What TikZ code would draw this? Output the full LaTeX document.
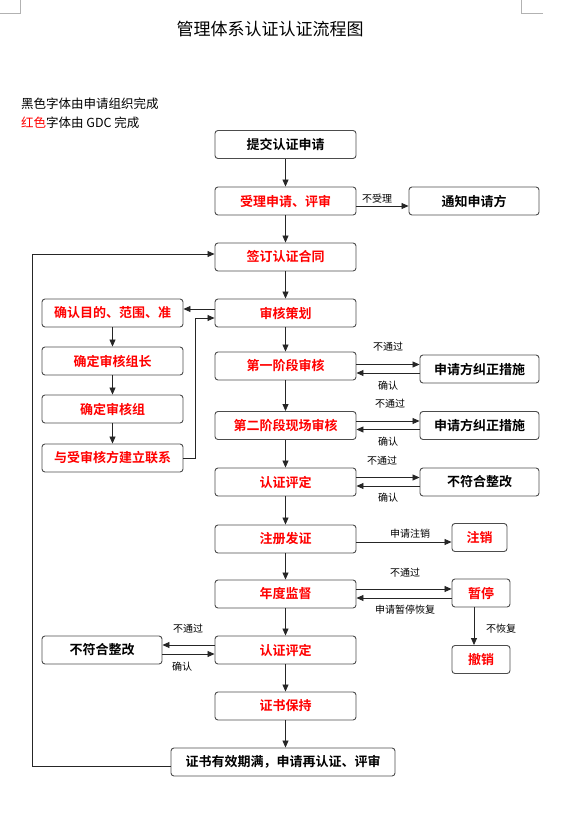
\documentclass[tikz,border=0pt]{standalone}
\usepackage{fontspec}
\setmainfont{Noto Sans CJK SC}[BoldFont={Noto Sans CJK SC Bold}]
\usetikzlibrary{arrows.meta}

\begin{document}
\begin{tikzpicture}[x=1pt, y=-1pt, font=\fontsize{10}{12}\selectfont,
  box/.style={draw=black!70, line width=0.9pt, rounded corners=3pt, minimum width=141pt,
    minimum height=28pt, inner sep=0pt, font=\fontsize{13}{15}\selectfont\bfseries},
  redbox/.style={box, text=red},
  arr/.style={draw=black!85, line width=0.8pt, -{Triangle[length=7pt,width=6pt]}},
  lbl/.style={inner sep=0pt, font=\fontsize{10}{12}\selectfont}]
\useasboundingbox (0,0) rectangle (564,822);
% page corner marks
\draw[gray!60, line width=0.6pt] (0,13) -- (20,13) -- (20,0);
\draw[gray!60, line width=0.6pt] (543,13) -- (521,13) -- (521,0);
\node (title) at (270,29) {\fontsize{17}{20}\selectfont 管理体系认证认证流程图};
\node[anchor=west, inner sep=0pt, font=\fontsize{12.5}{14}\selectfont] (legendA) at (21,104) {黑色字体由申请组织完成};
\node[anchor=west, inner sep=0pt, font=\fontsize{12.5}{14}\selectfont] (legendB) at (21,123) {\textcolor{red}{红色}字体由 GDC 完成};
% main column
\node[box] (apply) at (285.5,144.5) {提交认证申请};
\node[redbox] (accept) at (285.5,201) {受理申请、评审};
\node[box, minimum width=130pt] (notify) at (474,201) {通知申请方};
\node[redbox] (contract) at (285.5,257) {签订认证合同};
\node[redbox] (plan) at (285.5,313) {审核策划};
\node[redbox] (stage1) at (285.5,366) {第一阶段审核};
\node[redbox] (stage2) at (285.5,425.5) {第二阶段现场审核};
\node[redbox] (eval1) at (285.5,482) {认证评定};
\node[redbox] (register) at (285.5,539) {注册发证};
\node[redbox] (survey) at (285.5,594) {年度监督};
\node[redbox] (eval2) at (285.5,650) {认证评定};
\node[redbox] (keep) at (285.5,706) {证书保持};
\node[box, minimum width=224pt] (renew) at (283,762) {证书有效期满，申请再认证、评审};
% left column
\node[redbox] (confirm) at (112.5,313) {确认目的、范围、准};
\node[redbox] (leader) at (112.5,361) {确定审核组长};
\node[redbox] (team) at (112.5,409) {确定审核组};
\node[redbox] (contact) at (112.5,458) {与受审核方建立联系};
\node[box, minimum width=120pt] (nc2) at (102,650) {不符合整改};
% right column
\node[box, minimum width=119pt] (fix1) at (479.5,369) {申请方纠正措施};
\node[box, minimum width=119pt] (fix2) at (479.5,425.5) {申请方纠正措施};
\node[box, minimum width=119pt] (nc1) at (479.5,482) {不符合整改};
\node[redbox, minimum width=55pt] (cancel) at (479.5,537.5) {注销};
\node[redbox, minimum width=58pt] (suspend) at (481,593) {暂停};
\node[redbox, minimum width=58pt] (revoke) at (481,659.5) {撤销};
\coordinate (loop) at (32,254);

\foreach \a/\b in {apply/accept, accept/contract, contract/plan, plan/stage1, stage1/stage2,
  stage2/eval1, eval1/register, register/survey, survey/eval2, eval2/keep, keep/renew}
  \draw[arr] (\a.south) -- (\a.south |- \b.north);
\foreach \a/\b in {confirm/leader, leader/team, team/contact}
  \draw[arr] (\a) -- (\b);

\draw[arr] ([yshift=-5pt]accept.east) -- ([yshift=-5pt]accept.east -| notify.west);
\draw[arr] ([yshift=4pt]plan.west) -- ([yshift=4pt]plan.west -| confirm.east);
\draw[arr] (contact.east) -- ++(12,0) |- ([yshift=-5pt]plan.west);
\foreach \a/\b in {stage1/fix1, stage2/fix2, eval1/nc1} {
  \draw[arr] ([yshift=4.5pt]\b.west -| \a.east) -- ([yshift=4.5pt]\b.west);
  \draw[arr] ([yshift=-4pt]\b.west) -- ([yshift=-4pt]\b.west -| \a.east);
}
\draw[arr] ([yshift=-3pt]register.east) -- ([yshift=-3pt]register.east -| cancel.west);
\draw[arr] ([yshift=5pt]survey.east) -- ([yshift=5pt]survey.east -| suspend.west);
\draw[arr] ([yshift=-5pt]suspend.west) -- ([yshift=-5pt]suspend.west -| survey.east);
\draw[arr] ([xshift=-7pt]suspend.south) -- ([xshift=-7pt]revoke.north);
\draw[arr] ([yshift=5pt]eval2.west) -- ([yshift=5pt]eval2.west -| nc2.east);
\draw[arr] ([yshift=-4pt]nc2.east) -- ([yshift=-4pt]nc2.east -| eval2.west);
\draw[arr] ([yshift=-4pt]renew.west) -| (loop) -- (loop -| contract.west);

% connector labels
\node[lbl] (noaccept) at (377,199) {不受理};
\node[lbl] (failA) at (388,347) {不通过};
\node[lbl] (okA) at (388,386) {确认};
\node[lbl] (failB) at (390,404) {不通过};
\node[lbl] (okB) at (388,442) {确认};
\node[lbl] (failC) at (382,461) {不通过};
\node[lbl] (okC) at (388,498) {确认};
\node[lbl] (askcancel) at (410,534) {申请注销};
\node[lbl] (failD) at (405,573) {不通过};
\node[lbl] (resume) at (405,610) {申请暂停恢复};
\node[lbl] (noresume) at (501,629) {不恢复};
\node[lbl] (failE) at (188,629) {不通过};
\node[lbl] (okE) at (182,667) {确认};
\end{tikzpicture}
\end{document}
